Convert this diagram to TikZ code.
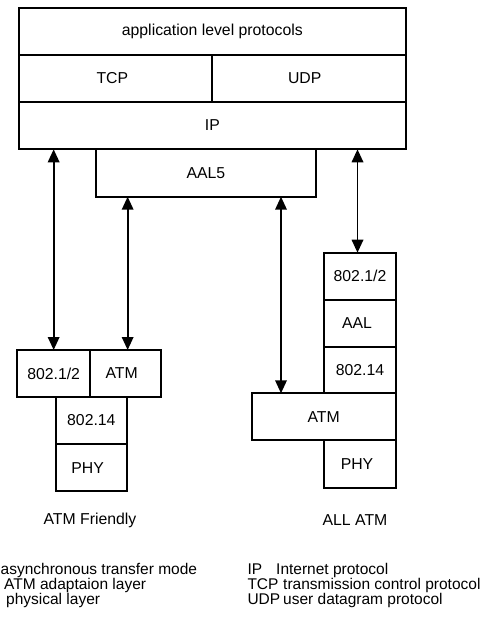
\documentclass[tikz,border=0pt]{standalone}
\usepackage{fontspec}
\setmainfont{Liberation Sans}
\usetikzlibrary{arrows.meta}
\newcommand\protobox[6]{\node[pbox,anchor=north west,minimum width={#4-#2},minimum height={#5-#3}] (#1) at (#2,#3) {#6};}
\tikzset{
  pbox/.style={draw=black,line width=2pt,inner sep=0pt,outer sep=0pt,font=\fontsize{15.8}{18}\selectfont},
  arr/.style={line width=1.8pt,{Triangle[length=13pt,width=11.5pt]}-{Triangle[length=13pt,width=11.5pt]}},
  captext/.style={font=\fontsize{15.8}{18}\selectfont,inner sep=0pt},
  leg/.style={font=\fontsize{15.5}{18}\selectfont,inner sep=0pt,anchor=base west}
}
\begin{document}
\begin{tikzpicture}[x=1pt,y=-1pt]
\useasboundingbox (0,0) rectangle (484,617);
\protobox{app}{19}{8.3}{405.7}{55}{application level protocols}
\protobox{tcp}{19}{55}{211.7}{101.7}{TCP\kern6pt}
\protobox{udp}{211.7}{55}{405.7}{101.7}{UDP\kern8pt}
\protobox{ip}{19}{101.7}{405.7}{149.3}{IP}
\protobox{aal5}{95.7}{149.3}{316}{196.7}{AAL5}
% ATM friendly stack
\protobox{lb}{17.3}{350}{90}{397}{802.1/2}
\protobox{latm}{90}{350}{161.3}{397}{ATM\kern8pt}
\protobox{lwl}{56}{397}{126.7}{444}{802.14}
\protobox{lphy}{56}{444}{127.3}{491.3}{PHY\kern8pt}
% all ATM stack
\protobox{rb}{324.3}{252.7}{395.7}{300}{802.1/2}
\protobox{raal}{324.3}{300}{395.7}{346.7}{AAL\kern6pt}
\protobox{rwl}{324.3}{346.7}{395.7}{393.3}{802.14}
\protobox{ratm}{251.7}{393.3}{395.7}{440.3}{ATM}
\protobox{rphy}{324.3}{440.3}{395.7}{487.7}{PHY\kern6pt}
% arrows
\draw[arr] (lb.north) -- (lb.north |- ip.south);
\draw[arr] ([xshift=2pt]latm.north) -- ([xshift=2pt]latm.north |- aal5.south);
\draw[arr] ([xshift=-42.7pt]ratm.north) -- ([xshift=-42.7pt]ratm.north |- aal5.south);
\draw[arr] ([xshift=-2.5pt]rb.north) -- ([xshift=-2.5pt]rb.north |- ip.south);
% captions
\node[captext] (capf) at (90,520.5) {ATM Friendly};
\node[captext] (capa) at (355,520.5) {ALL ATM};
% legend
\node[leg] (l1) at (0.5,574) {asynchronous transfer mode};
\node[leg] (l2) at (4,589.3) {ATM adaptaion layer};
\node[leg] (l3) at (6,604.3) {physical layer};
\node[leg] (r1a) at (247.3,574) {IP};
\node[leg] (r1b) at (276,574) {Internet protocol};
\node[leg] (r2a) at (247.3,589.3) {TCP};
\node[leg] (r2b) at (283,589.3) {transmission control protocol};
\node[leg] (r3a) at (247.3,604.3) {UDP};
\node[leg] (r3b) at (283,604.3) {user datagram protocol};
\end{tikzpicture}
\end{document}
